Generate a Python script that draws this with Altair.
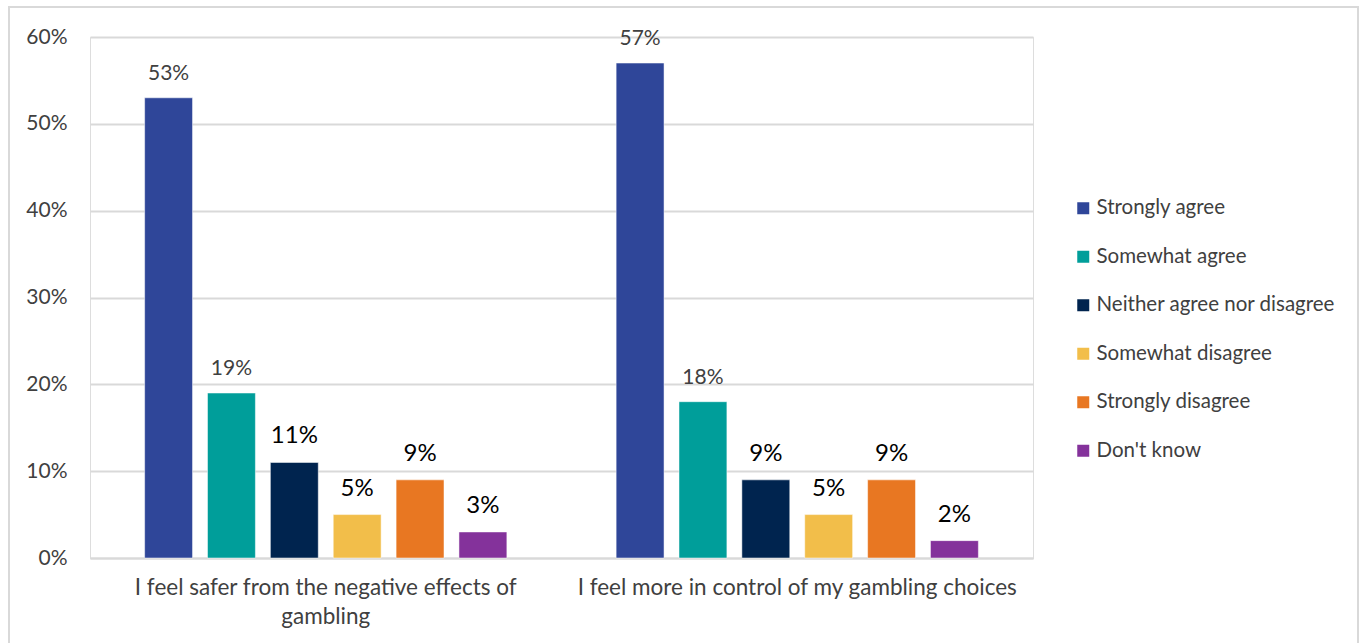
import altair as alt
import pandas as pd

categories = [
    "I feel safer from the negative effects of gambling",
    "I feel more in control of my gambling choices",
]
series = [
    "Strongly agree",
    "Somewhat agree",
    "Neither agree nor disagree",
    "Somewhat disagree",
    "Strongly disagree",
    "Don't know",
]
values_safer = [53, 19, 11, 5, 9, 3]
values_control = [57, 18, 9, 5, 9, 2]
colors = ["#2F4699", "#009E9A", "#00244F", "#F2BE4A", "#E87722", "#84329B"]
dark_label_series = series[2:]

rows = []
for cat, vals in zip(categories, [values_safer, values_control]):
    for s, v in zip(series, vals):
        rows.append({"category": cat, "series": s, "value": v / 100.0,
                     "label": f"{v}%"})
df = pd.DataFrame(rows)

FONT = "Lato"

x = alt.X("category:N", sort=categories, title=None,
          scale=alt.Scale(paddingInner=0.2, paddingOuter=0.1),
          axis=alt.Axis(labelAngle=0, labelFontSize=22.5, labelColor="#404040",
                        labelFont=FONT, ticks=False, tickSize=0, domain=True,
                        domainColor="#d9d9d9", domainWidth=2, labelPadding=18,
                        labelLineHeight=29, labelLimit=600,
                        labelExpr="datum.value == '" + categories[0] + "' ? ['I feel safer from the negative effects of', 'gambling'] : datum.value"))
xoff = alt.XOffset("series:N", sort=series,
                   scale=alt.Scale(paddingInner=0.238, paddingOuter=0.119))
y = alt.Y("value:Q", title=None,
          scale=alt.Scale(domain=[0, 0.6], nice=False),
          axis=alt.Axis(format=".0%", values=[0, 0.1, 0.2, 0.3, 0.4, 0.5, 0.6],
                        labelFontSize=21, labelColor="#404040", labelFont=FONT,
                        ticks=False, domain=False, labelPadding=23,
                        gridColor="#d9d9d9", gridWidth=2))

color = alt.Color("series:N", sort=series,
                  scale=alt.Scale(domain=series, range=colors),
                  legend=alt.Legend(title=None, orient="none", legendX=983, legendY=161,
                                    symbolType="square", symbolSize=144,
                                    symbolStrokeWidth=0,
                                    labelFontSize=20.5, labelColor="#404040",
                                    labelFont=FONT, rowPadding=27.5,
                                    labelOffset=3, labelLimit=300))

bars = alt.Chart(df).mark_bar(stroke="white", strokeWidth=0.5).encode(
    x=x, xOffset=xoff, y=y, color=color)

texts = alt.Chart(df).mark_text(baseline="bottom", dy=-14, font=FONT).encode(
    x=alt.X("category:N", sort=categories),
    xOffset=alt.XOffset("series:N", sort=series),
    y="value:Q",
    text="label:N",
    size=alt.condition(alt.FieldOneOfPredicate(field="series", oneOf=dark_label_series),
                       alt.value(24), alt.value(21)),
    color=alt.condition(alt.FieldOneOfPredicate(field="series", oneOf=dark_label_series),
                        alt.value("#000000"), alt.value("#404040")),
)

border = alt.Chart(pd.DataFrame({"a": [0]})).mark_rect(
    fill=None, stroke="#d9d9d9", strokeWidth=2).encode(
    x=alt.value(-81), x2=alt.value(1268), y=alt.value(-30), y2=alt.value(620))

chart = alt.layer(bars, texts, border).properties(
    width=943, height=521,
    autosize=alt.AutoSizeParams(type="none"),
    padding={"left": 90, "top": 37, "right": 328, "bottom": 85},
).configure_view(stroke=None).configure(background="white")

chart.save("out.html", embed_options={"renderer": "svg", "actions": False})
